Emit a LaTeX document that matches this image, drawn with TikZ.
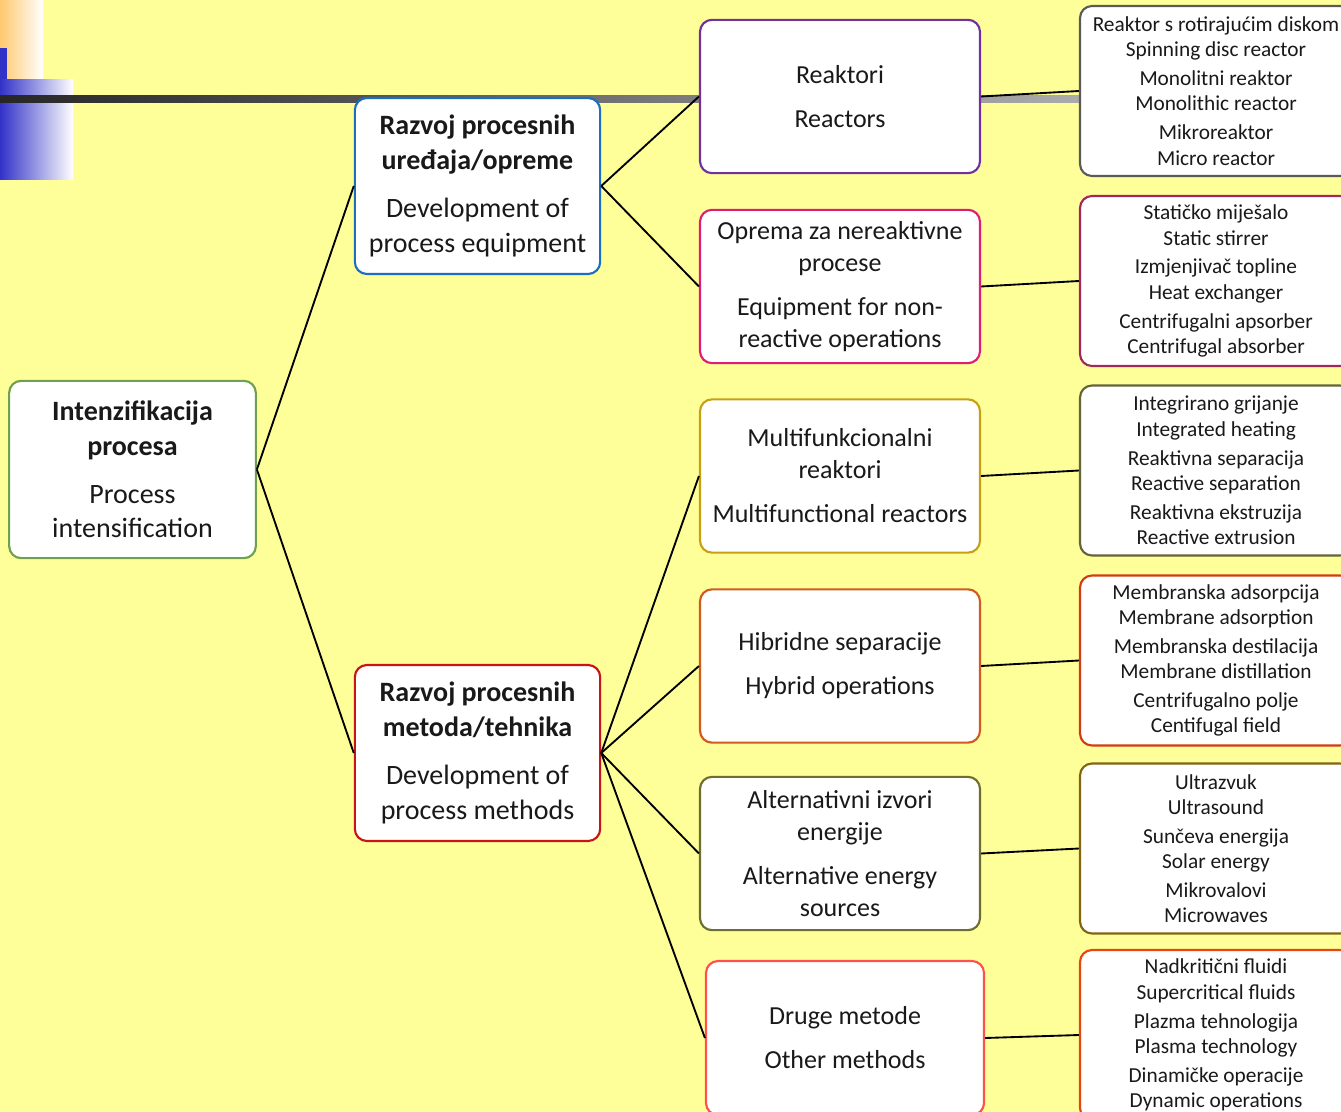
\documentclass[tikz,border=0pt]{standalone}
\usepackage{fontspec}
\setmainfont{Carlito}
\definecolor{bg}{RGB}{255,255,153}
\definecolor{cRoot}{RGB}{110,160,80}
\definecolor{cBlue}{RGB}{30,110,190}
\definecolor{cRed}{RGB}{200,20,20}
\definecolor{cPurple}{RGB}{112,48,160}
\definecolor{cMagenta}{RGB}{220,30,120}
\definecolor{cGold}{RGB}{200,160,20}
\definecolor{cOrange}{RGB}{210,90,30}
\definecolor{cOlive}{RGB}{110,110,50}
\definecolor{cLightRed}{RGB}{255,80,80}
\definecolor{cGray}{RGB}{90,90,90}
\definecolor{cMaroon}{RGB}{160,40,90}
\definecolor{cDarkOlive}{RGB}{100,100,60}
\definecolor{cRedOrange}{RGB}{210,60,20}
\definecolor{cBrown}{RGB}{130,100,20}
\definecolor{cOrangeRed}{RGB}{230,70,20}
\definecolor{decoOrange}{RGB}{255,200,110}
\definecolor{decoBlue}{RGB}{50,50,200}
\begin{document}
\begin{tikzpicture}[x=0.75pt,y=-0.75pt,
  box/.style={draw, fill=white, rounded corners=9pt, line width=1.6pt, align=center, inner sep=0pt, text=black!90},
  rootbox/.style={box, minimum width=185pt, minimum height=133pt, font=\fontsize{21}{26}\selectfont},
  lvlone/.style={box, minimum width=184pt, minimum height=132pt, font=\fontsize{21}{26}\selectfont},
  lvltwo/.style={box, minimum width=210pt, minimum height=115pt, font=\fontsize{19.5}{24}\selectfont},
  leafbox/.style={box, minimum width=204pt, minimum height=127.5pt, font=\fontsize{16}{19}\selectfont},
  conn/.style={draw=black, line width=1.4pt}]
\clip (0,0) rectangle (1341,1112);
\fill[bg] (0,0) rectangle (1341,1112);
% decorations
\shade[left color=decoOrange, right color=white] (0,0) rectangle (43,80);
\fill[decoBlue] (0,48) rectangle (7,80);
\shade[left color=decoBlue, right color=white] (0,80) rectangle (73,180);
\shade[left color=black!85, right color=black!20] (0,96) rectangle (1341,103);
% nodes
\node[rootbox, draw=cRoot] (root) at (132.5,469.5) {\textbf{Intenzifikacija}\\\textbf{procesa}\\[10pt]Process\\intensification};
\node[lvlone, draw=cBlue] (equip) at (477.5,186) {\textbf{Razvoj procesnih}\\\textbf{uređaja/opreme}\\[10pt]Development of\\process equipment};
\node[lvlone, draw=cRed] (meth) at (477.5,753) {\textbf{Razvoj procesnih}\\\textbf{metoda/tehnika}\\[10pt]Development of\\process methods};
\node[lvltwo, draw=cPurple] (react) at (840,96.5) {Reaktori\\[9pt]Reactors};
\node[lvltwo, draw=cMagenta] (nonr) at (840,286.5) {Oprema za nereaktivne\\procese\\[9pt]Equipment for non-\\reactive operations};
\node[lvltwo, draw=cGold] (multi) at (840,476) {Multifunkcionalni\\reaktori\\[9pt]Multifunctional reactors};
\node[lvltwo, draw=cOrange] (hyb) at (840,666) {Hibridne separacije\\[9pt]Hybrid operations};
\node[lvltwo, draw=cOlive] (alt) at (840,853.5) {Alternativni izvori\\energije\\[9pt]Alternative energy\\sources};
\node[lvltwo, draw=cLightRed, minimum width=208.5pt, minimum height=115.5pt] (other) at (845,1038) {Druge metode\\[9pt]Other methods};
\node[leafbox, draw=cGray] (l1) at (1216,91) {Reaktor s rotirajućim diskom\\Spinning disc reactor\\[2.6pt]Monolitni reaktor\\Monolithic reactor\\[2.6pt]Mikroreaktor\\Micro reactor};
\node[leafbox, draw=cMaroon] (l2) at (1216,281) {Statičko miješalo\\Static stirrer\\[2.6pt]Izmjenjivač topline\\Heat exchanger\\[2.6pt]Centrifugalni apsorber\\Centrifugal absorber};
\node[leafbox, draw=cDarkOlive] (l3) at (1216,470.5) {Integrirano grijanje\\Integrated heating\\[2.6pt]Reaktivna separacija\\Reactive separation\\[2.6pt]Reaktivna ekstruzija\\Reactive extrusion};
\node[leafbox, draw=cRedOrange] (l4) at (1216,660.5) {Membranska adsorpcija\\Membrane adsorption\\[2.6pt]Membranska destilacija\\Membrane distillation\\[2.6pt]Centrifugalno polje\\Centifugal field};
\node[leafbox, draw=cBrown] (l5) at (1216,848.5) {Ultrazvuk\\Ultrasound\\[2.6pt]Sunčeva energija\\Solar energy\\[2.6pt]Mikrovalovi\\Microwaves};
\node[leafbox, draw=cOrangeRed] (l6) at (1216,1035) {Nadkritični fluidi\\Supercritical fluids\\[2.6pt]Plazma tehnologija\\Plasma technology\\[2.6pt]Dinamičke operacije\\Dynamic operations};
% connectors
\draw[conn] (root.east) -- (equip.west);
\draw[conn] (root.east) -- (meth.west);
\draw[conn] (equip.east) -- (react.west);
\draw[conn] (equip.east) -- (nonr.west);
\draw[conn] (meth.east) -- (multi.west);
\draw[conn] (meth.east) -- (hyb.west);
\draw[conn] (meth.east) -- (alt.west);
\draw[conn] (meth.east) -- (other.west);
\draw[conn] (react.east) -- (l1.west);
\draw[conn] (nonr.east) -- (l2.west);
\draw[conn] (multi.east) -- (l3.west);
\draw[conn] (hyb.east) -- (l4.west);
\draw[conn] (alt.east) -- (l5.west);
\draw[conn] (other.east) -- (l6.west);
\end{tikzpicture}
\end{document}
